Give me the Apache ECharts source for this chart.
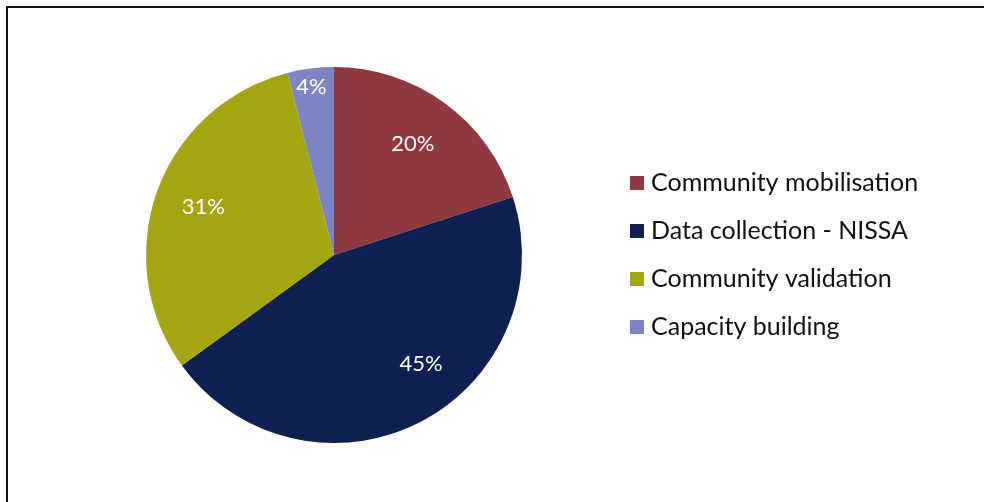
<!DOCTYPE html>
<html><head><meta charset="utf-8">
<script src="https://cdn.jsdelivr.net/npm/echarts@6/dist/echarts.min.js"></script>
<style>html,body{margin:0;padding:0;background:#fff}#c{width:984px;height:502px}</style>
</head><body><div id="c"></div>
<script>
const categories = ['Community mobilisation', 'Data collection - NISSA', 'Community validation', 'Capacity building'];
const values = [20, 45, 31, 4];
const colors = ['#8E3A40', '#0E1F51', '#A5A512', '#7F84C4'];
const labelShift = [[-4, 3], [23, -17], [2, 0], [-5, -28]];

const chart = echarts.init(document.getElementById('c'));
const data = categories.map((n, i) => ({ name: n, value: values[i], itemStyle: { color: colors[i] } }));
const font = 'Lato, "Open Sans", sans-serif';
chart.setOption({
  animation: false,
  graphic: [{
    type: 'polyline', silent: true,
    shape: { points: [[7, 502], [7, 7], [984, 7]] },
    style: { stroke: '#111', lineWidth: 2, fill: null }
  }],
  legend: {
    orient: 'vertical', left: 630, top: 170, padding: 0,
    itemWidth: 14, itemHeight: 14, itemGap: 22, icon: 'rect',
    textStyle: { fontFamily: font, fontSize: 25, lineHeight: 26, color: '#111', padding: [0, 0, 0, 2] },
    data: categories
  },
  series: [{
    type: 'pie', center: [334, 255], radius: [0, 188], startAngle: 90, clockwise: true,
    label: { show: false }, labelLine: { show: false }, silent: true,
    data: data
  }, {
    type: 'pie', center: [334, 255], radius: [88, 188], startAngle: 90, clockwise: true,
    silent: true, legendHoverLink: false,
    itemStyle: { color: 'rgba(0,0,0,0)' },
    label: { show: true, position: 'inside', formatter: '{c}%', color: '#fff', fontFamily: font, fontSize: 22 },
    labelLine: { show: false },
    labelLayout: function (p) { const s = labelShift[p.dataIndex]; return { dx: s[0], dy: s[1] }; },
    data: categories.map((n, i) => ({ name: n + ' ', value: values[i], itemStyle: { color: 'rgba(0,0,0,0)' } }))
  }]
});
</script></body></html>
